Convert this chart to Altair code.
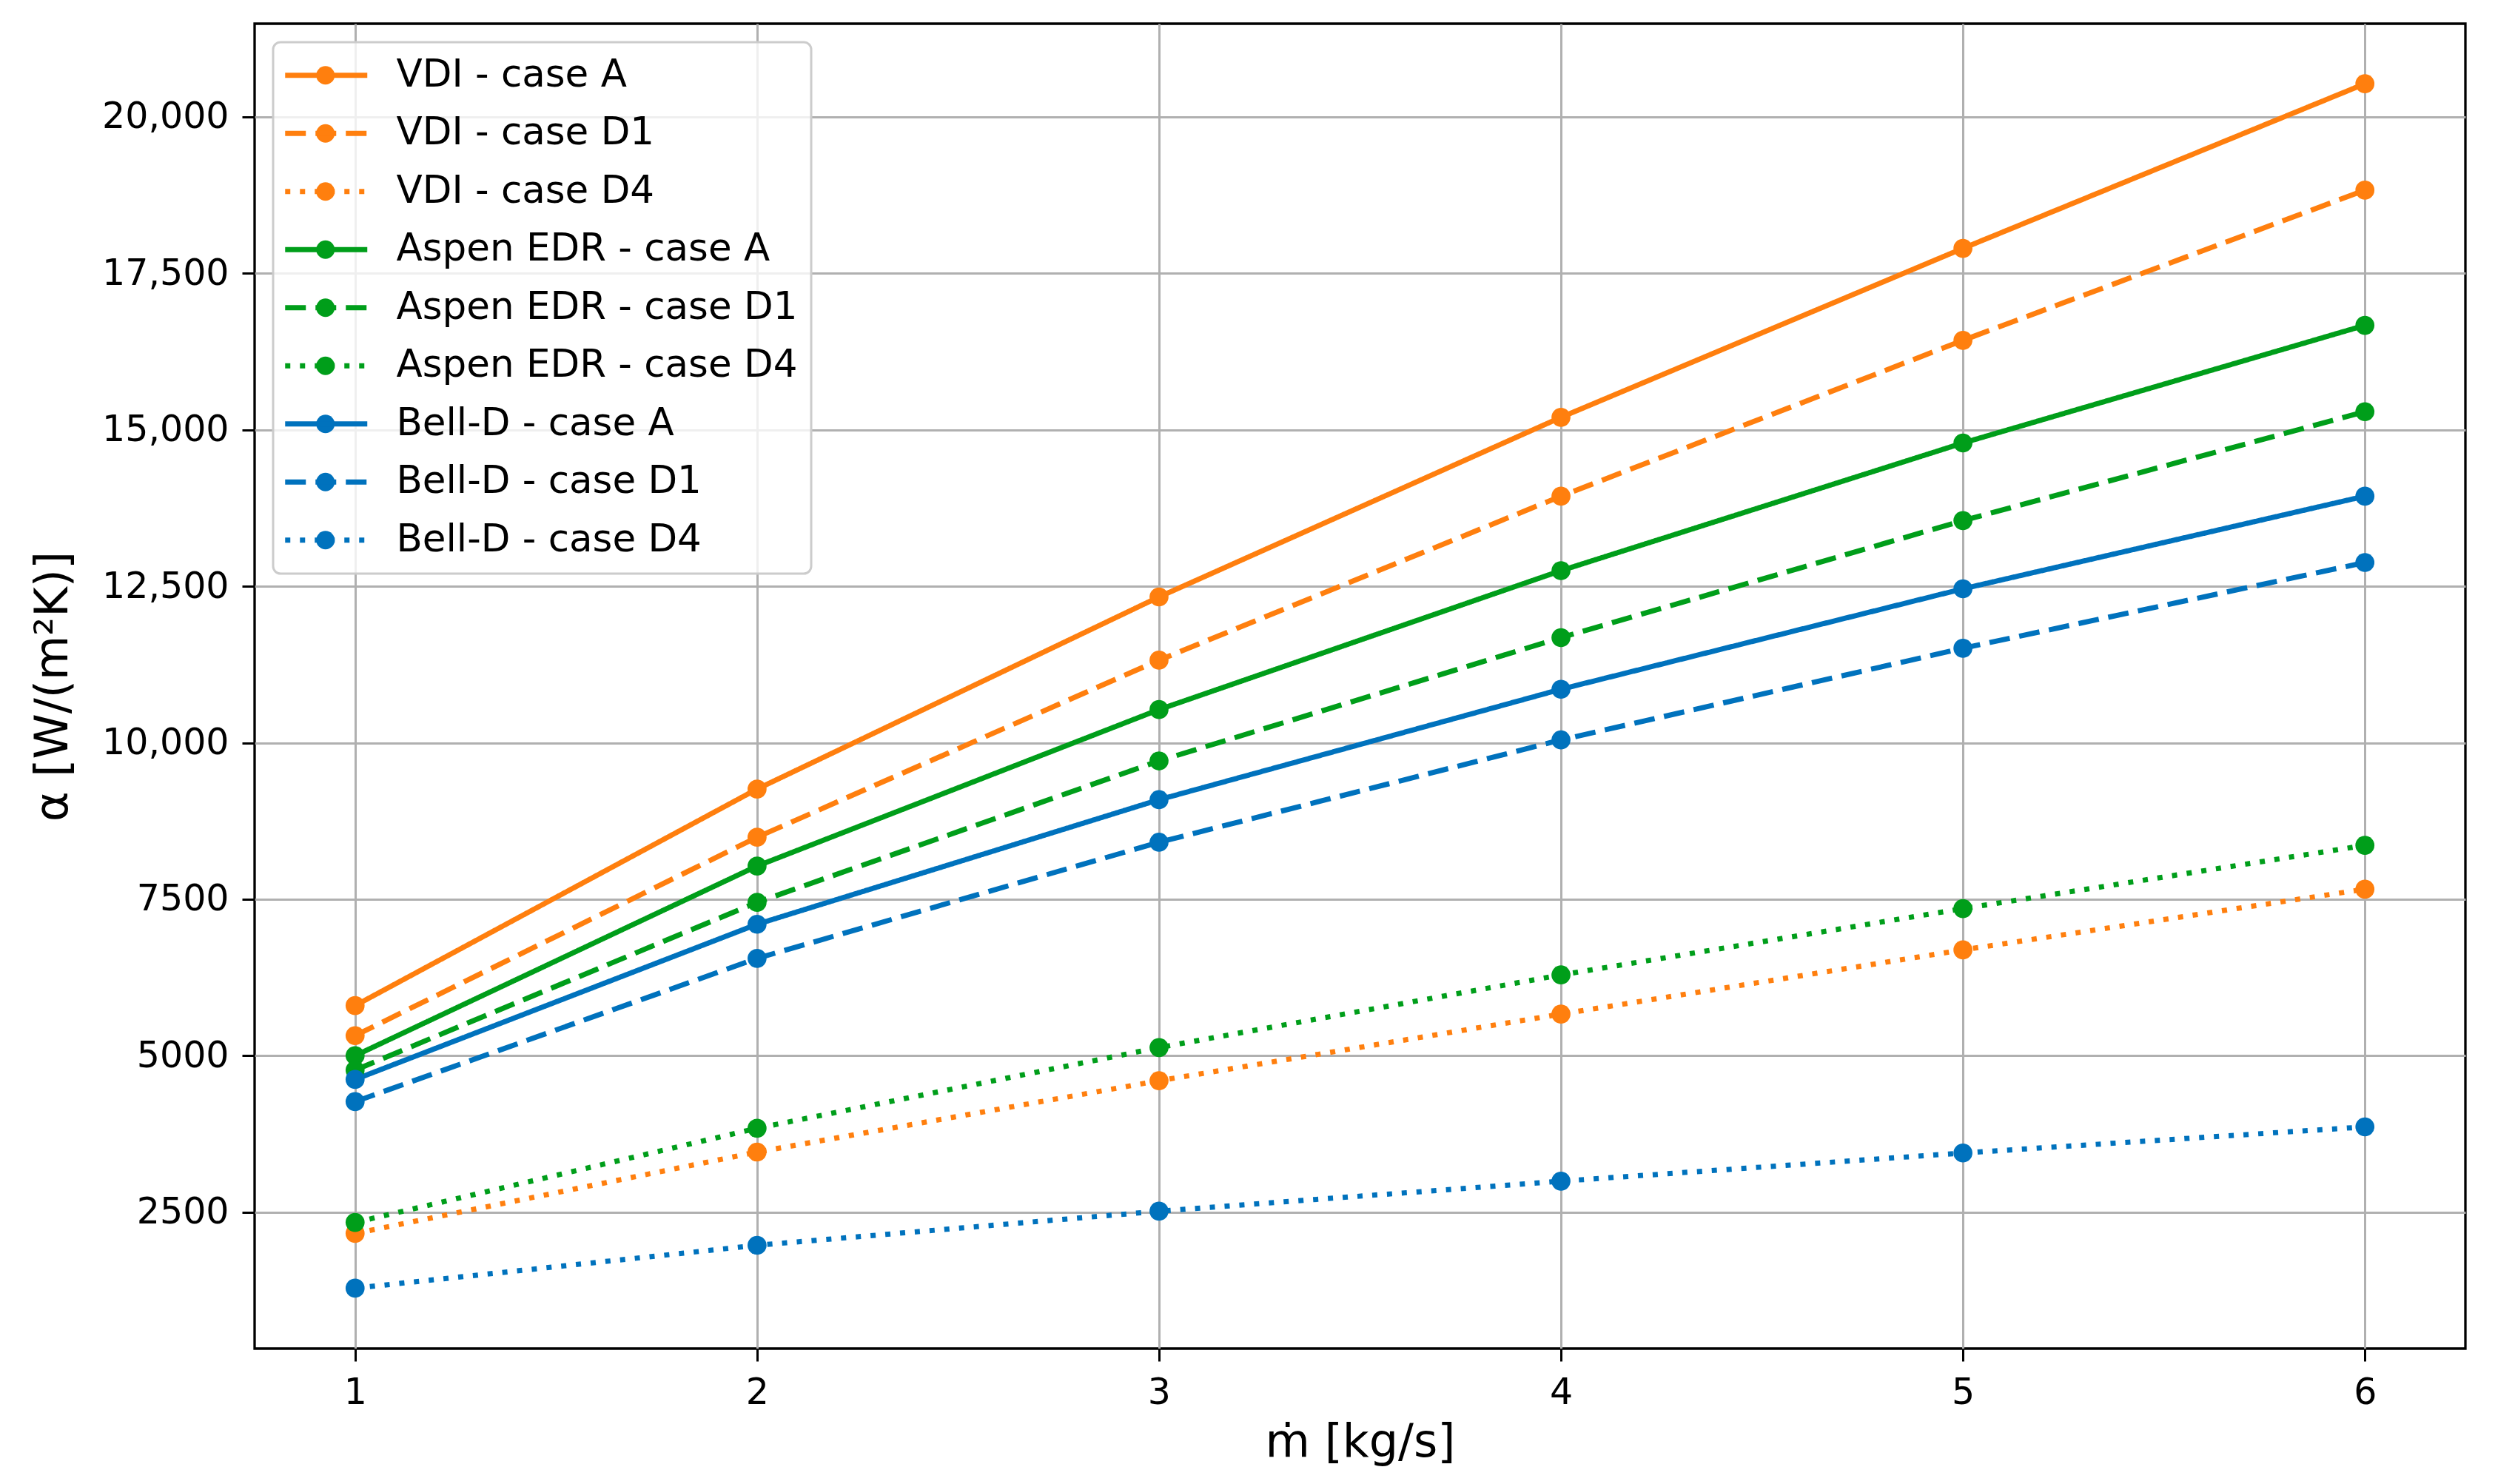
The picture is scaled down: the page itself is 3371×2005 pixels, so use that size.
import altair as alt
import pandas as pd

# ---- data ----
MDOT = [1, 2, 3, 4, 5, 6]
VDI_A = [5800, 9260, 12330, 15200, 17900, 20530]
VDI_D1 = [5320, 8490, 11320, 13940, 16430, 18830]
VDI_D4 = [2160, 3460, 4600, 5665, 6690, 7660]
ASPEN_A = [5000, 8030, 10530, 12750, 14790, 16670]
ASPEN_D1 = [4770, 7450, 9710, 11680, 13550, 15290]
ASPEN_D4 = [2335, 3840, 5130, 6290, 7350, 8360]
BELL_A = [4620, 7100, 9090, 10855, 12460, 13940]
BELL_D1 = [4265, 6555, 8410, 10045, 11510, 12880]
BELL_D4 = [1285, 1970, 2515, 2995, 3445, 3862]

SERIES = [
    "VDI - case A", "VDI - case D1", "VDI - case D4",
    "Aspen EDR - case A", "Aspen EDR - case D1", "Aspen EDR - case D4",
    "Bell-D - case A", "Bell-D - case D1", "Bell-D - case D4",
]
VALUES = [VDI_A, VDI_D1, VDI_D4, ASPEN_A, ASPEN_D1, ASPEN_D4, BELL_A, BELL_D1, BELL_D4]

X_TICKS = [1, 2, 3, 4, 5, 6]
Y_TICKS = [2500, 5000, 7500, 10000, 12500, 15000, 17500, 20000]
X_DOMAIN = [0.75, 6.25]
Y_DOMAIN = [320, 21490]

ORANGE, GREEN, BLUE = "#ff7f0e", "#009e1a", "#0072bd"
COLORS = [ORANGE] * 3 + [GREEN] * 3 + [BLUE] * 3
SOLID, DASHED, DOTTED = [1, 0], [28, 13], [7, 13]
DASHES = [SOLID, DASHED, DOTTED] * 3

rows = []
for name, vals in zip(SERIES, VALUES):
    for m, v in zip(MDOT, vals):
        rows.append({"mdot": m, "alpha": v, "series": name, "series_pt": name})
df = pd.DataFrame(rows)

FONT = "DejaVu Sans"

x_enc = alt.X(
    "mdot:Q",
    scale=alt.Scale(domain=X_DOMAIN, nice=False, zero=False),
    axis=alt.Axis(
        values=X_TICKS, format="d", title="ṁ [kg/s]",
        titleY=145, titleBaseline="alphabetic",
    ),
)
y_enc = alt.Y(
    "alpha:Q",
    scale=alt.Scale(domain=Y_DOMAIN, nice=False, zero=False),
    axis=alt.Axis(
        values=Y_TICKS, title="α [W/(m²K)]",
        labelExpr="datum.value >= 10000 ? format(datum.value, ',') : format(datum.value, 'd')",
        titleX=-273, titleBaseline="middle",
    ),
)

base = alt.Chart(df).encode(x=x_enc, y=y_enc)

LINE_SYMBOL = "M-4.44,0L4.44,0"
line_legend = dict(
    orient="none", legendX=26, legendY=25, title=None,
    symbolType=LINE_SYMBOL, symbolSize=625, symbolStrokeWidth=7,
    labelFont=FONT, labelFontSize=51.5, labelColor="black", labelLimit=3000,
    padding=19, rowPadding=25.5, symbolOffset=26, labelOffset=69,
    zindex=3,
)
lines = base.mark_line(strokeWidth=7, strokeCap="butt").encode(
    stroke=alt.Stroke("series:N", scale=alt.Scale(domain=SERIES, range=COLORS),
                      legend=alt.Legend(**line_legend)),
    strokeDash=alt.StrokeDash("series:N", scale=alt.Scale(domain=SERIES, range=DASHES),
                              legend=alt.Legend(**line_legend)),
)

points = base.mark_circle(size=660, opacity=1).encode(
    fill=alt.Fill(
        "series_pt:N", scale=alt.Scale(domain=SERIES, range=COLORS),
        legend=alt.Legend(
            orient="top-left", offset=25, title=None,
            symbolType="circle", symbolSize=625, symbolStrokeWidth=7,
            labelFont=FONT, labelFontSize=51.5, labelOpacity=0, labelLimit=3000,
            padding=19, rowPadding=25.5, symbolOffset=26, labelOffset=69,
            fillColor="rgba(255,255,255,0.8)", strokeColor="#cccccc",
            cornerRadius=10, zindex=1,
        ),
    ),
)

chart = (
    alt.layer(lines, points)
    .properties(
        width=2987, height=1790,
        autosize=alt.AutoSizeParams(type="none"),
        padding={"left": 336, "top": 24, "right": 20, "bottom": 160},
        background="white",
    )
    .configure_view(stroke="black", strokeWidth=3.3, fill="white")
    .configure_legend(strokeWidth=3)
    .configure_axis(
        labelFont=FONT, labelFontSize=49, labelColor="black",
        titleFont=FONT, titleFontSize=62, titleFontWeight="normal", titleColor="black",
        tickSize=17, tickWidth=3, tickColor="black", labelPadding=18,
        grid=True, gridColor="#b0b0b0", gridWidth=3, domain=False,
    )
)

chart.save("out.html", embed_options={"renderer": "svg", "actions": False})
